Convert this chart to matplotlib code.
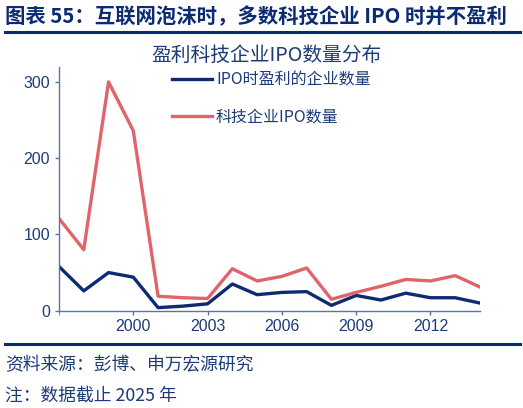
import matplotlib
matplotlib.use("Agg")
import matplotlib.pyplot as plt
from matplotlib.lines import Line2D

plt.rcParams['font.family'] = ['Noto Sans CJK SC', 'DejaVu Sans']

years = list(range(1997, 2015))
profitable = [58, 26, 50, 44, 4, 6, 9, 35, 21, 24, 25, 7, 20, 14, 23, 17, 17, 10]
tech_ipo = [121, 80, 300, 236, 19, 17, 16, 55, 39, 45, 56, 15, 24, 32, 41, 39, 46, 31]
xticks = [2000, 2003, 2006, 2009, 2012]
yticks = [0, 100, 200, 300]

header = "图表 55：互联网泡沫时，多数科技企业 IPO 时并不盈利"
chart_title = "盈利科技企业IPO数量分布"
labels = ["IPO时盈利的企业数量", "科技企业IPO数量"]
source = "资料来源：彭博、申万宏源研究"
note = "注：数据截止 2025 年"

navy = "#0c2b73"
red = "#e0646b"
text_blue = "#1d3b78"
spine_c = "#5a74a8"

fig = plt.figure(figsize=(5.23, 4.08), dpi=100)
W, H = 523, 408

fig.text(5 / W, 1 - 17 / H, header, fontsize=14.7, fontweight='bold', color=navy,
         ha='left', va='center')
fig.add_artist(Line2D([5 / W, 520 / W], [1 - 31.5 / H] * 2, color=navy, lw=2.2))
fig.add_artist(Line2D([5 / W, 520 / W], [1 - 343.5 / H] * 2, color=navy, lw=2.2))
fig.text(5 / W, 1 - 365 / H, source, fontsize=12.8, color=text_blue, ha='left', va='center')
fig.text(5 / W, 1 - 396 / H, note, fontsize=12.8, color=text_blue, ha='left', va='center')

ax = fig.add_axes([59 / W, 1 - 310.7 / H, (480 - 59) / W, (310.7 - 66.7) / H])
l1, = ax.plot(years, profitable, color=navy, lw=2.4, label=labels[0])
l2, = ax.plot(years, tech_ipo, color=red, lw=2.4, label=labels[1])
ax.set_xlim(1997, 2014)
ax.set_ylim(0, 320)
ax.set_xticks(xticks)
ax.set_yticks(yticks)
ax.set_xticks([1997], minor=True)
for s in ['top', 'right']:
    ax.spines[s].set_visible(False)
for s in ['left', 'bottom']:
    ax.spines[s].set_color(spine_c)
    ax.spines[s].set_linewidth(1.0)
ax.tick_params(axis='both', colors=spine_c, labelcolor=text_blue, labelsize=11.5,
               length=3, width=1)
ax.tick_params(axis='x', which='minor', length=3, color=spine_c)
ax.tick_params(axis='x', pad=3)
for lab in ax.get_xticklabels() + ax.get_yticklabels():
    lab.set_fontfamily('Liberation Sans')

fig.text(267 / W, 1 - 55 / H, chart_title, fontsize=14.2, color=text_blue,
         ha='center', va='center')
leg = fig.legend(handles=[l1, l2], loc='upper left', bbox_to_anchor=(172 / W, 1 - 72 / H),
                 bbox_transform=fig.transFigure, borderaxespad=0, borderpad=0,
                 frameon=False, fontsize=11.5, labelcolor=text_blue, handlelength=2.5,
                 handletextpad=0.25, labelspacing=1.2)

fig.savefig("out.png", dpi=100)
